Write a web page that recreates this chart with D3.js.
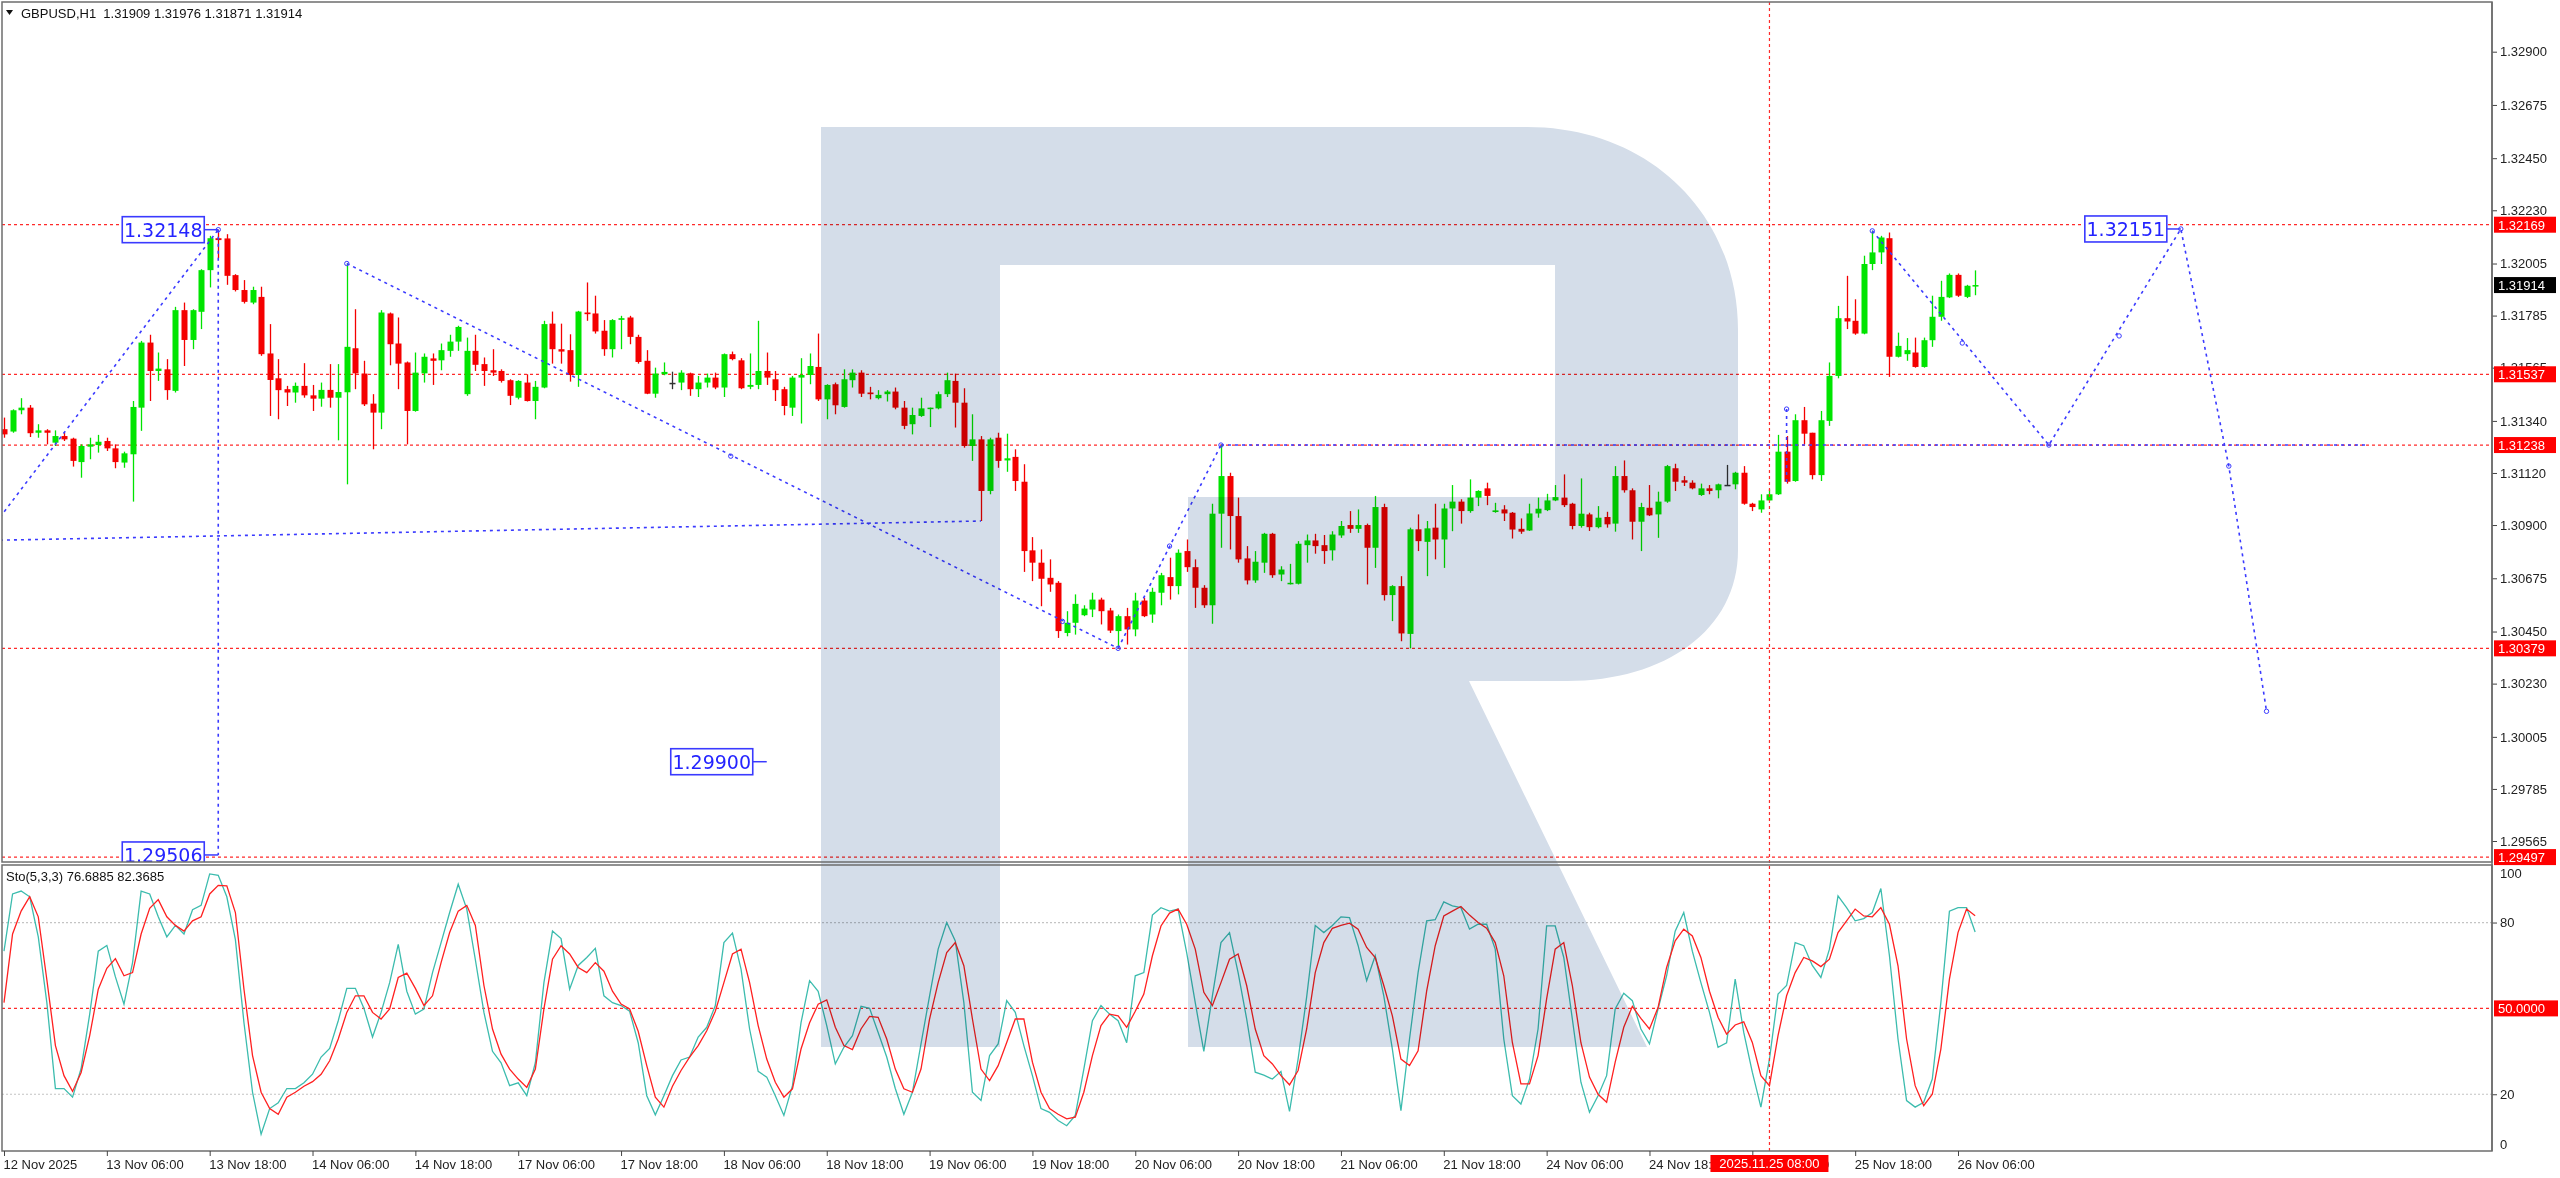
<!DOCTYPE html>
<html><head><meta charset="utf-8">
<script src="https://cdn.jsdelivr.net/npm/d3@7"></script>
<style>html,body{margin:0;padding:0;background:#fff;overflow:hidden}</style>
</head><body>
<svg id="c" width="2560" height="1178" xmlns="http://www.w3.org/2000/svg"></svg>
<script>
// ---------------- DATA ----------------
const symbolTitle = "GBPUSD,H1  1.31909 1.31976 1.31871 1.31914";
const stochTitle = "Sto(5,3,3) 76.6885 82.3685";
const timeLabels = ["12 Nov 2025","13 Nov 06:00","13 Nov 18:00","14 Nov 06:00","14 Nov 18:00","17 Nov 06:00","17 Nov 18:00","18 Nov 06:00","18 Nov 18:00","19 Nov 06:00","19 Nov 18:00","20 Nov 06:00","20 Nov 18:00","21 Nov 06:00","21 Nov 18:00","24 Nov 06:00","24 Nov 18:00","25 Nov 06:00","25 Nov 18:00","26 Nov 06:00"];
const timeLabelBars = [0,12,24,36,48,60,72,84,96,108,120,132,144,156,168,180,192,204,216,228];
const priceTicks = [1.32900,1.32675,1.32450,1.32230,1.32005,1.31785,1.31565,1.31340,1.31120,1.30900,1.30675,1.30450,1.30230,1.30005,1.29785,1.29565];
const levelLines = [1.32169,1.31537,1.31238,1.30379,1.29497];
const lastPrice = 1.31914;
const crosshairBar = 206;
const crosshairLabel = "2025.11.25 08:00";
const stochLevels = [80,20];
const stochMid = 50;

const open = [
1.31305,1.31295,1.31385,1.31396,1.31290,1.31300,1.31248,1.31276,1.31265,1.31166,
1.31231,1.31238,1.31255,1.31224,1.31164,1.31199,1.31396,1.31671,1.31551,1.31558,
1.31467,1.31808,1.31682,1.31801,1.31977,1.32112,1.32111,1.31956,1.31893,1.31840,
1.31864,1.31625,1.31520,1.31474,1.31460,1.31488,1.31448,1.31434,1.31471,1.31438,
1.31461,1.31647,1.31540,1.31413,1.31375,1.31794,1.31667,1.31587,1.31382,1.31541,
1.31604,1.31596,1.31636,1.31675,1.31453,1.31636,1.31580,1.31554,1.31551,1.31512,
1.31438,1.31502,1.31424,1.31481,1.31751,1.31643,1.31639,1.31534,1.31798,1.31794,
1.31721,1.31643,1.31767,1.31777,1.31695,1.31594,1.31455,1.31537,1.31501,1.31502,
1.31541,1.31474,1.31502,1.31523,1.31481,1.31622,1.31596,1.31484,1.31492,1.31551,
1.31516,1.31474,1.31396,1.31523,1.31534,1.31568,1.31431,1.31495,1.31399,1.31512,
1.31544,1.31460,1.31436,1.31453,1.31464,1.31396,1.31326,1.31361,1.31392,1.31393,
1.31453,1.31509,1.31417,1.31234,1.31262,1.31044,1.31269,1.31173,1.31188,1.31083,
1.30793,1.30741,1.30677,1.30656,1.30444,1.30487,1.30519,1.30543,1.30585,1.30539,
1.30452,1.30515,1.30459,1.30581,1.30522,1.30614,1.30680,1.30642,1.30790,1.30722,
1.30635,1.30561,1.30948,1.31107,1.30938,1.30759,1.30666,1.30741,1.30863,1.30691,
1.30652,1.30652,1.30815,1.30835,1.30815,1.30793,1.30856,1.30900,1.30884,1.30900,
1.30804,1.30976,1.30604,1.30642,1.30440,1.30882,1.30829,1.30889,1.30839,1.30970,
1.30999,1.30959,1.31016,1.31055,1.30955,1.30966,1.30952,1.30884,1.30877,1.30949,
1.30963,1.31004,1.31016,1.30990,1.30896,1.30945,1.30891,1.30934,1.30906,1.31107,
1.31047,1.30914,1.30973,1.30945,1.30999,1.31140,1.31089,1.31079,1.31027,1.31055,
1.31047,1.31070,1.31072,1.31121,1.30990,1.30966,1.31004,1.31030,1.31210,1.31086,
1.31343,1.31290,1.31111,1.31340,1.31530,1.31774,1.31763,1.31709,1.32003,1.32052,
1.32112,1.31611,1.31622,1.31629,1.31568,1.31681,1.31780,1.31862,1.31957,1.31864,
1.31909];
const high = [
1.31354,1.31389,1.31436,1.31407,1.31326,1.31305,1.31300,1.31290,1.31269,1.31241,
1.31269,1.31281,1.31269,1.31241,1.31210,1.31424,1.31678,1.31704,1.31629,1.31601,
1.31822,1.31840,1.31812,1.31981,1.32122,1.32148,1.32129,1.31960,1.31935,1.31907,
1.31907,1.31749,1.31601,1.31488,1.31502,1.31584,1.31492,1.31502,1.31580,1.31580,
1.32005,1.31812,1.31594,1.31453,1.31808,1.31798,1.31777,1.31591,1.31629,1.31625,
1.31625,1.31667,1.31704,1.31742,1.31692,1.31704,1.31608,1.31643,1.31558,1.31516,
1.31512,1.31537,1.31509,1.31763,1.31802,1.31751,1.31706,1.31805,1.31925,1.31869,
1.31766,1.31770,1.31784,1.31784,1.31704,1.31639,1.31565,1.31587,1.31548,1.31554,
1.31544,1.31530,1.31540,1.31544,1.31625,1.31633,1.31605,1.31625,1.31763,1.31629,
1.31551,1.31484,1.31530,1.31605,1.31625,1.31709,1.31495,1.31502,1.31558,1.31558,
1.31554,1.31484,1.31470,1.31470,1.31481,1.31424,1.31396,1.31438,1.31396,1.31464,
1.31544,1.31540,1.31478,1.31368,1.31276,1.31269,1.31290,1.31286,1.31220,1.31157,
1.30849,1.30797,1.30755,1.30663,1.30536,1.30607,1.30561,1.30614,1.30593,1.30550,
1.30522,1.30550,1.30614,1.30593,1.30635,1.30698,1.30762,1.30797,1.30839,1.30755,
1.30646,1.30990,1.31238,1.31121,1.31016,1.30811,1.30790,1.30867,1.30867,1.30726,
1.30736,1.30832,1.30860,1.30863,1.30858,1.30874,1.30917,1.30959,1.30966,1.30906,
1.31023,1.30990,1.30646,1.30684,1.30889,1.30945,1.30917,1.30990,1.30990,1.31069,
1.31009,1.31093,1.31047,1.31079,1.30994,1.30984,1.30955,1.30928,1.30990,1.31016,
1.31032,1.31069,1.31114,1.30994,1.31097,1.30952,1.30980,1.30956,1.31149,1.31173,
1.31055,1.30994,1.31069,1.31041,1.31154,1.31159,1.31107,1.31089,1.31075,1.31069,
1.31075,1.31154,1.31125,1.31149,1.30994,1.31030,1.31051,1.31281,1.31276,1.31368,
1.31399,1.31290,1.31382,1.31587,1.31826,1.31953,1.31854,1.32038,1.32144,1.32122,
1.32136,1.31713,1.31690,1.31692,1.31692,1.31869,1.31932,1.31963,1.31963,1.31915,
1.31976];
const low = [
1.31269,1.31290,1.31368,1.31272,1.31269,1.31241,1.31234,1.31255,1.31147,1.31100,
1.31178,1.31206,1.31213,1.31140,1.31142,1.30999,1.31298,1.31424,1.31509,1.31429,
1.31460,1.31572,1.31643,1.31728,1.31904,1.32028,1.31915,1.31887,1.31836,1.31833,
1.31615,1.31361,1.31347,1.31403,1.31417,1.31438,1.31382,1.31400,1.31396,1.31258,
1.31072,1.31474,1.31403,1.31220,1.31305,1.31575,1.31474,1.31241,1.31379,1.31502,
1.31492,1.31554,1.31611,1.31636,1.31446,1.31551,1.31488,1.31530,1.31502,1.31407,
1.31431,1.31422,1.31347,1.31478,1.31582,1.31582,1.31506,1.31484,1.31763,1.31709,
1.31615,1.31608,1.31643,1.31664,1.31582,1.31453,1.31438,1.31533,1.31474,1.31470,
1.31446,1.31441,1.31481,1.31474,1.31441,1.31596,1.31474,1.31474,1.31474,1.31492,
1.31424,1.31364,1.31361,1.31329,1.31495,1.31424,1.31347,1.31368,1.31396,1.31481,
1.31441,1.31431,1.31431,1.31422,1.31389,1.31305,1.31283,1.31357,1.31314,1.31389,
1.31441,1.31312,1.31227,1.31171,1.30917,1.31030,1.31142,1.31125,1.31044,1.30702,
1.30663,1.30557,1.30618,1.30423,1.30430,1.30437,1.30515,1.30511,1.30480,1.30444,
1.30379,1.30395,1.30430,1.30511,1.30487,1.30561,1.30585,1.30607,1.30702,1.30550,
1.30550,1.30483,1.30804,1.30797,1.30741,1.30649,1.30656,1.30698,1.30677,1.30663,
1.30649,1.30649,1.30741,1.30779,1.30736,1.30750,1.30846,1.30867,1.30867,1.30649,
1.30719,1.30581,1.30494,1.30409,1.30379,1.30790,1.30684,1.30755,1.30719,1.30874,
1.30906,1.30952,1.30980,1.30984,1.30952,1.30917,1.30843,1.30863,1.30875,1.30931,
1.30959,1.31001,1.30976,1.30882,1.30889,1.30875,1.30886,1.30889,1.30872,1.31037,
1.30839,1.30790,1.30938,1.30846,1.30994,1.31044,1.31065,1.31051,1.31023,1.31030,
1.31013,1.31065,1.31051,1.30986,1.30959,1.30952,1.31001,1.31027,1.31075,1.31083,
1.31241,1.31093,1.31086,1.31319,1.31520,1.31728,1.31704,1.31706,1.31977,1.32003,
1.31526,1.31608,1.31594,1.31565,1.31565,1.31653,1.31763,1.31859,1.31864,1.31859,
1.31871];
const close = [
1.31283,1.31385,1.31396,1.31288,1.31300,1.31290,1.31276,1.31262,1.31171,1.31234,
1.31241,1.31252,1.31224,1.31166,1.31203,1.31399,1.31671,1.31551,1.31561,1.31470,
1.31808,1.31682,1.31808,1.31977,1.32112,1.32104,1.31953,1.31893,1.31843,1.31893,
1.31622,1.31513,1.31470,1.31460,1.31488,1.31448,1.31434,1.31471,1.31438,1.31462,
1.31653,1.31541,1.31410,1.31375,1.31798,1.31664,1.31582,1.31382,1.31544,1.31611,
1.31594,1.31639,1.31675,1.31737,1.31636,1.31577,1.31551,1.31544,1.31509,1.31446,
1.31509,1.31424,1.31484,1.31749,1.31643,1.31633,1.31534,1.31802,1.31791,1.31718,
1.31643,1.31766,1.31774,1.31695,1.31589,1.31455,1.31540,1.31547,1.31501,1.31544,
1.31474,1.31502,1.31523,1.31481,1.31622,1.31601,1.31478,1.31492,1.31551,1.31523,
1.31470,1.31403,1.31523,1.31534,1.31572,1.31431,1.31492,1.31406,1.31516,1.31544,
1.31455,1.31453,1.31450,1.31464,1.31396,1.31319,1.31365,1.31393,1.31396,1.31453,
1.31512,1.31417,1.31234,1.31262,1.31044,1.31262,1.31171,1.31182,1.31086,1.30790,
1.30741,1.30673,1.30649,1.30452,1.30487,1.30567,1.30547,1.30585,1.30536,1.30454,
1.30515,1.30459,1.30581,1.30515,1.30618,1.30688,1.30642,1.30783,1.30722,1.30635,
1.30561,1.30948,1.31107,1.30938,1.30755,1.30666,1.30745,1.30863,1.30688,1.30712,
1.30656,1.30821,1.30835,1.30811,1.30790,1.30860,1.30896,1.30884,1.30900,1.30804,
1.30976,1.30604,1.30642,1.30442,1.30882,1.30832,1.30886,1.30839,1.30970,1.30999,
1.30959,1.31016,1.31044,1.31023,1.30962,1.30949,1.30881,1.30872,1.30949,1.30969,
1.31004,1.31018,1.30984,1.30896,1.30948,1.30891,1.30931,1.30903,1.31107,1.31047,
1.30914,1.30976,1.30941,1.30999,1.31149,1.31083,1.31079,1.31055,1.31055,1.31044,
1.31072,1.31070,1.31121,1.30990,1.30976,1.31004,1.31030,1.31210,1.31083,1.31343,
1.31286,1.31111,1.31343,1.31530,1.31774,1.31760,1.31709,1.32003,1.32052,1.32115,
1.31611,1.31657,1.31639,1.31568,1.31681,1.31780,1.31864,1.31957,1.31869,1.31911,
1.31914];

const stochK = [
70,90,91,89,75,52,22,22,19,29,
48,70,72,61,51.5,66,91,90,82,75,
79,76,84.5,86,97,96.5,89,74,45,20.7,
6,15,17,22,22,24,27,33,36,45.7,
57,57,50,40,48.6,59,72.4,56,48,49.8,
62.5,73,83.5,93.4,84.7,67,48.6,35,31,23,
24,19.5,31,59,77,74.4,56.7,65,67.8,71,
54.4,52,51,49,38,19.5,12.8,19.5,26.5,32,
33,40,43.4,51,73,76.3,63.7,42.8,28,26,
19.5,12.6,23,45,59.7,56,44,30.6,36.4,40.5,
50.7,50,41.6,33,22,13,20.7,37.6,54.4,70.7,
80,73.6,52,20.7,17.8,33.5,37.6,52.7,48.6,37,
26.5,15,13.7,10.8,9,12.6,28.8,45.7,51,48,
45.7,38,61.4,62.5,82.6,85.2,84,84.7,69.5,52,
35,54.4,73,76.5,62.5,46.3,27.7,26.7,25.3,28,
14,32.3,54,79,76.5,79,82,81.7,72,59.7,
68.4,54.4,35.8,14.3,39.3,62.5,80.6,81,87.2,85.8,
85.2,77.7,79.4,79.4,70.7,39.3,19.5,16.6,25.3,42.8,
78.8,78.8,67.8,46.3,24.2,13.7,19.5,26.5,49.8,55.3,
52.7,42.8,37.6,49.8,61.4,77,83.5,70,59,48.6,
36.4,38,60.2,41.6,27.7,15.5,32.3,55,58,73,
71.9,65,60.8,70.7,89.3,85.2,80.6,81.4,83.5,91.9,
68.4,39.3,17.8,15.5,17.2,25.3,52,84,85.2,85.2,
76.69];
const stochD = [
52,76,84,89,82,60,37,26.5,21,27.6,
40.5,56.7,64,67.4,61.4,62.5,76,85,88,82,
79,77,80.6,82,90,93,92.8,83.5,56.7,33.5,
20.7,15,13,19,20.7,22.8,24.4,27,31.7,39.3,
48.6,54.4,54.4,48.6,46.3,49.8,60.8,62.3,57,51,
54.4,66,76.5,84,86,79,58,42.8,34,28.8,
25.3,22.4,28.8,49.8,67.2,71.9,69,64.3,62.5,66,
63,56,51.5,49.8,42,30,19,15.5,22.8,28.3,
33,37,42.2,49,59,69,70.7,59,44,32.3,
24.2,19,21.9,35.8,45,51.5,53,43.4,37,35.6,
42.8,47.2,46.9,39.3,28.8,21.9,20.7,28.8,46.3,59,
69.5,73,64.9,46.3,28.8,24.8,30,38.1,46.3,46.3,
31.2,20.7,15,13,11.4,12,20.7,33.5,44,48,
47.4,43.4,49,55,68.4,78.8,83.3,84.7,79.4,70.7,
55.6,51,59,67.2,69,58,42.8,33.5,30.6,26.5,
23.3,28.3,42.8,62.5,73,78,79,79.8,77.7,71.3,
67.8,58,47.4,32.3,30,35.2,56,71.9,82.3,84,
85.6,82.6,80,78,73,61.4,38.1,23.6,23.6,33.5,
53.3,70.7,73,58,38,26,20,17.2,31.2,43.4,
50.7,46.5,42.8,50.3,64.3,73.6,77.7,75.3,67.8,56,
46.9,41,44.2,45.3,38.1,26.5,23,40.5,54.4,62.5,
67.8,66.6,64.6,67.2,76.5,80.6,84.7,82.3,82,85.2,
79.4,64.9,39.3,23,16,20,35.8,60.2,76.5,84.7,
82.37];

// analyst drawings (bar index, price)
const zigzagA = [[-0.47,1.30933],[25,1.32148]];
const zigzagB = [[40,1.32005],[130,1.30379]];
const zigzagC = [[-0.47,1.30836],[114,1.30917]];
const zigzagD = [[130,1.30379],[142,1.31238]];
const targetLine = [[142,1.31238],[275.7,1.31238]];
const forecastPath = [[218,1.32143],[238.6,1.31238],[254,1.32151],[259.6,1.31149],[264,1.30113]];
const verticalA = [[25,1.32148],[25,1.29506]];
const verticalB = [[208,1.3139],[208,1.3108]];
const markerPoints = [[25,1.32148],[40,1.32005],[84.8,1.31191],[123.5,1.30493],[130,1.30379],[136,1.30811],[142,1.31238],[208,1.3139],[218,1.32143],[228.5,1.31669],[238.6,1.31238],[246.8,1.31699],[254,1.32151],[259.6,1.31149],[264,1.30113]];
const priceLabels = [
  {text:"1.32148", bar:25, price:1.32148},
  {text:"1.29506", bar:25, price:1.29506},
  {text:"1.29900", bar:89, price:1.29900},
  {text:"1.32151", bar:254, price:1.32151}
];

// ---------------- DRAW ----------------
const svg = d3.select("#c");
const L = 2, R = 2492, PT = 2, PB = 862, ST = 865, SB = 1151;
const x = d3.scaleLinear().domain([0,228]).range([4,1958]);
const y = d3.scaleLinear().domain([1.29565,1.32900]).range([841,51.7]);
const sy = d3.scaleLinear().domain([0,100]).range([1151.5,865.3]);
const FONT = "'Liberation Sans', Arial, sans-serif";
const GREEN = "#00e400", RED = "#f40000", BLUE = "#3a3aff";

svg.append("rect").attr("width",2560).attr("height",1178).attr("fill","#fff");
const defs = svg.append("defs");
defs.append("clipPath").attr("id","cp").append("rect").attr("x",L).attr("y",PT).attr("width",R-L).attr("height",PB-PT);
defs.append("clipPath").attr("id","cs").append("rect").attr("x",L).attr("y",ST).attr("width",R-L).attr("height",SB-ST);

const gp = svg.append("g").attr("clip-path","url(#cp)");
const gs = svg.append("g").attr("clip-path","url(#cs)");

// red level lines
gp.selectAll("line.lvl").data(levelLines).enter().append("line")
  .attr("x1",L).attr("x2",R).attr("y1",d=>y(d)).attr("y2",d=>y(d))
  .attr("stroke","#ff2a2a").attr("stroke-width",1.3).attr("stroke-dasharray","3,3");

// candles
const idx = d3.range(open.length);
const col = i => close[i] > open[i] ? GREEN : (close[i] < open[i] ? RED : "#333");
gp.selectAll("line.wick").data(idx).enter().append("line")
  .attr("x1",i=>Math.round(x(i))+0.5).attr("x2",i=>Math.round(x(i))+0.5)
  .attr("y1",i=>y(high[i])).attr("y2",i=>y(low[i]))
  .attr("stroke",col).attr("stroke-width",1.3);
gp.selectAll("rect.body").data(idx).enter().append("rect")
  .attr("x",i=>Math.round(x(i))-2.5)
  .attr("y",i=>Math.min(y(open[i]),y(close[i])))
  .attr("width",6)
  .attr("height",i=>Math.max(1.5,Math.abs(y(open[i])-y(close[i]))))
  .attr("fill",col);

// blue drawings
const pl = d3.line().x(d=>x(d[0])).y(d=>y(d[1]));
[zigzagA,zigzagB,zigzagC,zigzagD,targetLine,forecastPath,verticalA,verticalB].forEach(p=>{
  gp.append("path").attr("d",pl(p)).attr("fill","none").attr("stroke",BLUE)
    .attr("stroke-width",1.6).attr("stroke-dasharray","3,4");
});
gp.selectAll("circle.mk").data(markerPoints).enter().append("circle")
  .attr("cx",d=>x(d[0])).attr("cy",d=>y(d[1])).attr("r",2.2)
  .attr("fill","none").attr("stroke",BLUE).attr("stroke-width",1);

// price label boxes
priceLabels.forEach(p=>{
  const ax = x(p.bar), ay = y(p.price);
  const bw = 82, bh = 26, gap = 14;
  gp.append("line").attr("x1",ax-gap).attr("x2",ax).attr("y1",ay).attr("y2",ay)
    .attr("stroke",BLUE).attr("stroke-width",1.5);
  gp.append("rect").attr("x",ax-gap-bw).attr("y",ay-bh/2).attr("width",bw).attr("height",bh)
    .attr("fill","#fff").attr("stroke",BLUE).attr("stroke-width",1.6);
  gp.append("text").attr("x",ax-gap-bw/2).attr("y",ay+7).attr("text-anchor","middle")
    .attr("font-family","'DejaVu Sans', sans-serif").attr("font-size",19).attr("fill","#2424ff").text(p.text);
});

// stochastic
gs.selectAll("line.sl").data(stochLevels).enter().append("line")
  .attr("x1",L).attr("x2",R).attr("y1",d=>sy(d)).attr("y2",d=>sy(d))
  .attr("stroke","#c4c4c4").attr("stroke-width",1.2).attr("stroke-dasharray","2,2");
gs.append("line").attr("x1",L).attr("x2",R).attr("y1",sy(stochMid)).attr("y2",sy(stochMid))
  .attr("stroke","#ff2a2a").attr("stroke-width",1.3).attr("stroke-dasharray","3,3");
const sl = d3.line().x((d,i)=>x(i)).y(d=>sy(d));
gs.append("path").attr("d",sl(stochK)).attr("fill","none").attr("stroke","#3cbcae").attr("stroke-width",1.3);
gs.append("path").attr("d",sl(stochD)).attr("fill","none").attr("stroke","#ff2020").attr("stroke-width",1.3);

// crosshair
svg.append("line").attr("x1",x(crosshairBar)).attr("x2",x(crosshairBar)).attr("y1",PT).attr("y2",SB)
  .attr("stroke","#ff2a2a").attr("stroke-width",1.2).attr("stroke-dasharray","3,3");

// watermark (multiply blend on top)
svg.append("path")
  .attr("d","M821,127 L1527,127 C1650,127 1738,215 1738,330 L1738,550 C1738,630 1665,681 1567,681 L1469,681 L1647,1047 L1188,1047 L1188,497 L1555,497 L1555,265 L1000,265 L1000,1047 L821,1047 Z")
  .attr("fill","#d4dde9").style("mix-blend-mode","multiply");

// frames
const frame = "#6d6d6d";
svg.append("rect").attr("x",L).attr("y",PT).attr("width",R-L).attr("height",PB-PT).attr("fill","none").attr("stroke",frame).attr("stroke-width",1.5);
svg.append("rect").attr("x",L).attr("y",ST).attr("width",R-L).attr("height",SB-ST).attr("fill","none").attr("stroke",frame).attr("stroke-width",1.5);

// price axis
const ya = d3.axisRight(y).tickValues(priceTicks).tickFormat(d3.format(".5f")).tickSize(5).tickPadding(3);
const gya = svg.append("g").attr("transform",`translate(${R},0)`).call(ya);
gya.select(".domain").remove();
gya.selectAll("line").attr("stroke","#444");
gya.selectAll("text").attr("font-family",FONT).attr("font-size",13).attr("fill","#222");

// level labels on axis
levelLines.forEach(v=>{
  svg.append("rect").attr("x",R+2).attr("y",y(v)-8).attr("width",62).attr("height",16).attr("fill","#ff0000");
  svg.append("text").attr("x",R+6).attr("y",y(v)+5).attr("font-family",FONT).attr("font-size",13).attr("fill","#fff").text(d3.format(".5f")(v));
});
svg.append("rect").attr("x",R+2).attr("y",y(lastPrice)-8).attr("width",62).attr("height",16).attr("fill","#000");
svg.append("text").attr("x",R+6).attr("y",y(lastPrice)+5).attr("font-family",FONT).attr("font-size",13).attr("fill","#fff").text(d3.format(".5f")(lastPrice));

// stoch axis
const sa = d3.axisRight(sy).tickValues(stochLevels).tickSize(5).tickPadding(3);
const gsa = svg.append("g").attr("transform",`translate(${R},0)`).call(sa);
gsa.select(".domain").remove();
gsa.selectAll("line").attr("stroke","#444");
gsa.selectAll("text").attr("font-family",FONT).attr("font-size",13).attr("fill","#222");
svg.append("text").attr("x",R+8).attr("y",sy(100)+13).attr("font-family",FONT).attr("font-size",13).attr("fill","#222").text("100");
svg.append("text").attr("x",R+8).attr("y",sy(0)-3).attr("font-family",FONT).attr("font-size",13).attr("fill","#222").text("0");
svg.append("rect").attr("x",R+2).attr("y",sy(stochMid)-8).attr("width",64).attr("height",16).attr("fill","#ff0000");
svg.append("text").attr("x",R+6).attr("y",sy(stochMid)+5).attr("font-family",FONT).attr("font-size",13).attr("fill","#fff").text(d3.format(".4f")(stochMid));

// vertical axis line
svg.append("line").attr("x1",R).attr("x2",R).attr("y1",PT).attr("y2",SB).attr("stroke",frame).attr("stroke-width",1.5);

// time axis
const xa = d3.axisBottom(x).tickValues(timeLabelBars).tickFormat((d,i)=>timeLabels[i]).tickSize(5).tickPadding(4);
const gxa = svg.append("g").attr("transform",`translate(0,${SB})`).call(xa);
gxa.select(".domain").remove();
gxa.selectAll("line").attr("stroke","#444");
gxa.selectAll("text").attr("text-anchor","start").attr("dx",-1).attr("font-family",FONT).attr("font-size",13).attr("fill","#222");
const cx = x(crosshairBar);
svg.append("rect").attr("x",cx-59).attr("y",SB+4).attr("width",118).attr("height",17).attr("fill","#ff0000");
svg.append("text").attr("x",cx).attr("y",SB+17).attr("text-anchor","middle").attr("font-family",FONT).attr("font-size",13).attr("fill","#fff").text(crosshairLabel);

// titles
svg.append("path").attr("d","M6,10 L13,10 L9.5,15 Z").attr("fill","#111");
svg.append("text").attr("x",21).attr("y",18).attr("font-family",FONT).attr("font-size",13).attr("fill","#111").attr("xml:space","preserve").style("white-space","pre").text(symbolTitle);
svg.append("text").attr("x",6).attr("y",ST+16).attr("font-family",FONT).attr("font-size",13).attr("fill","#111").text(stochTitle);
</script>
</body></html>
